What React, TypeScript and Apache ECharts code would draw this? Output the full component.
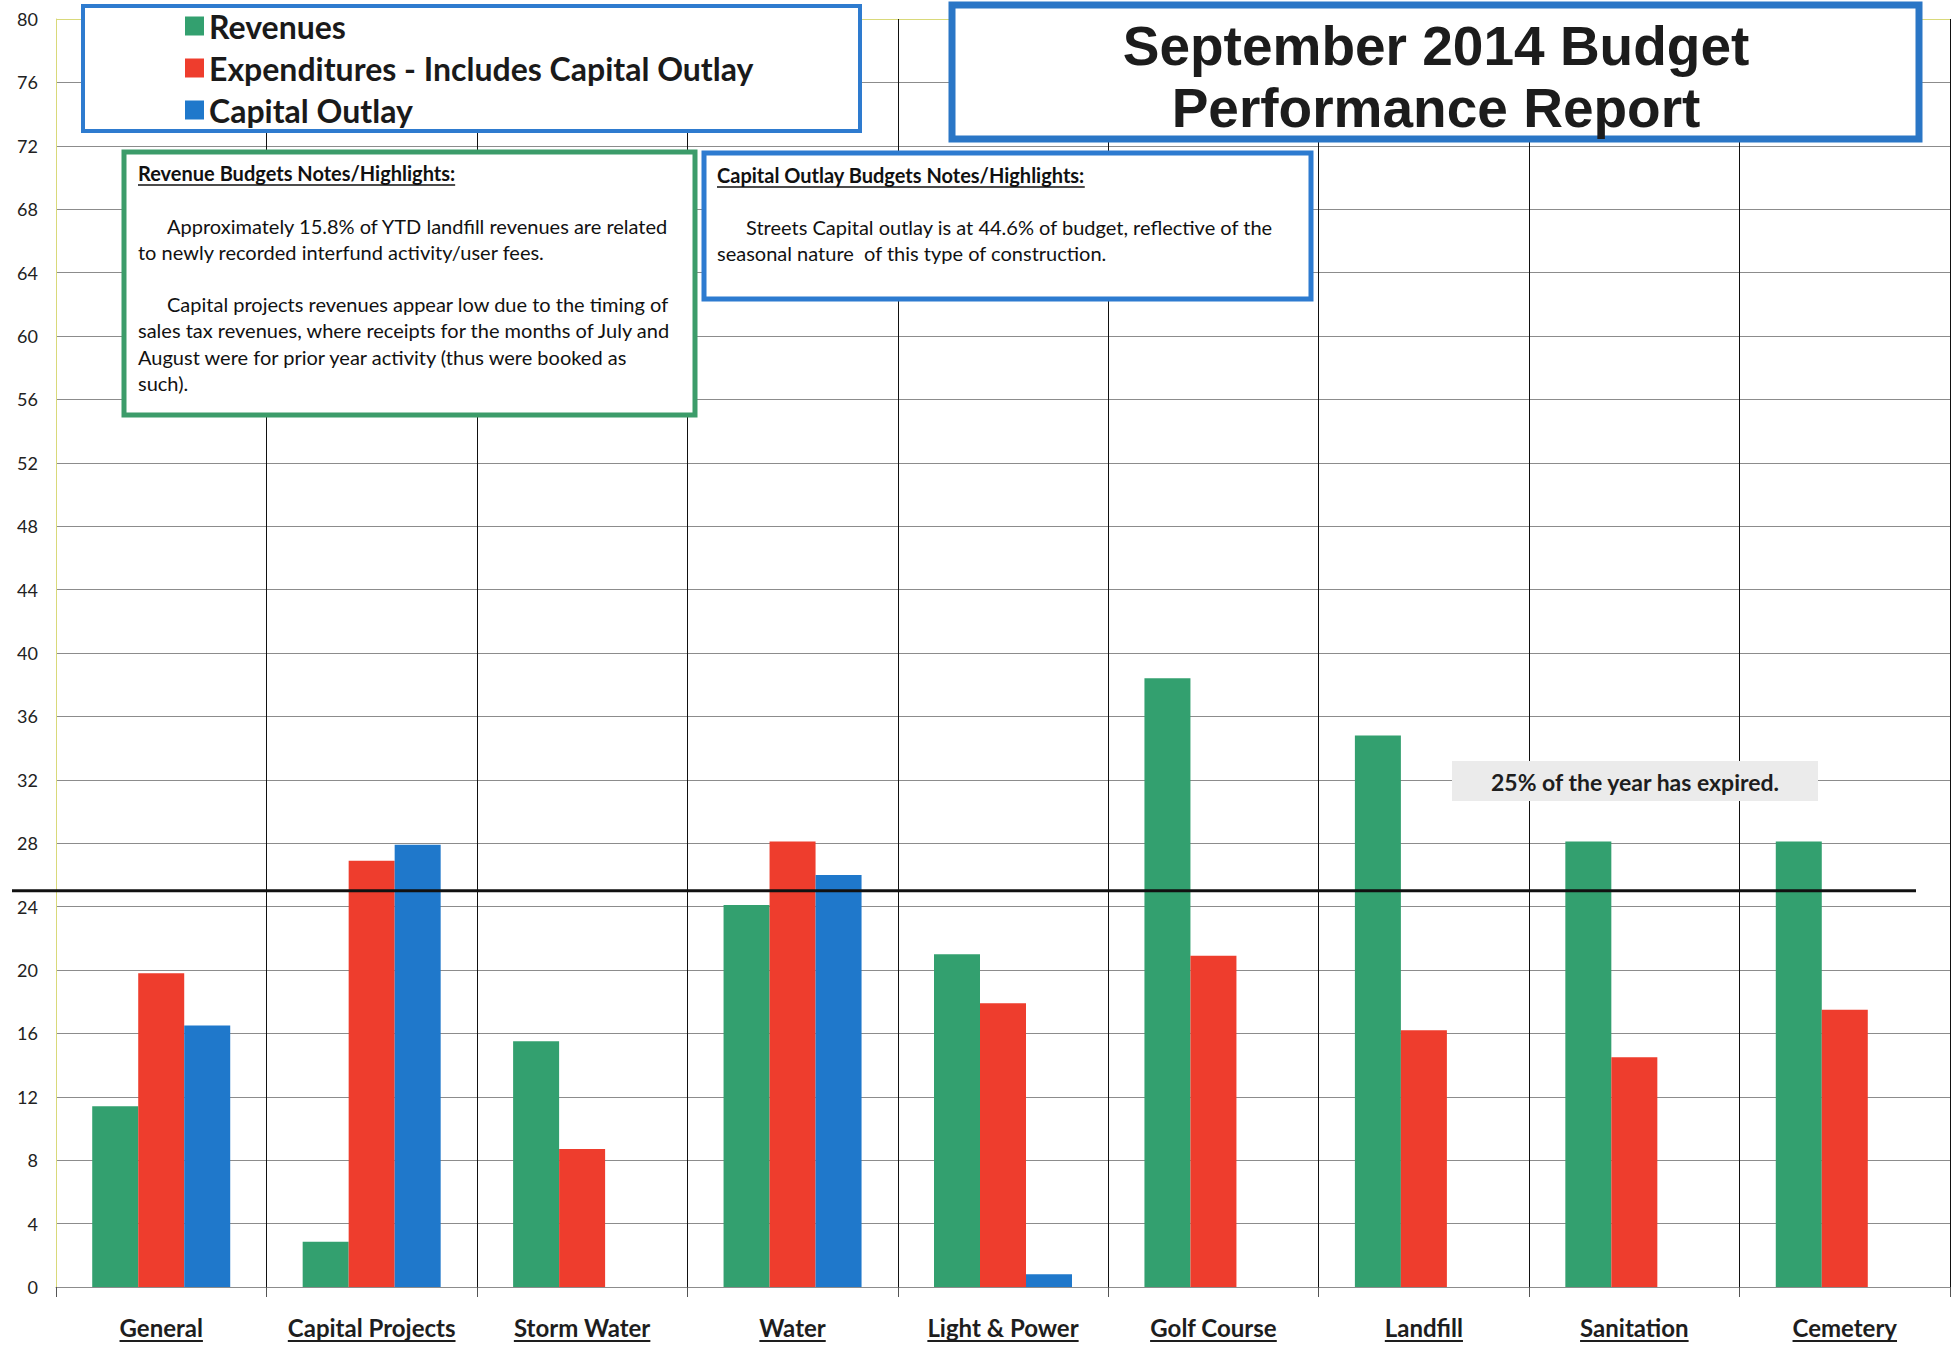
import React, { useEffect, useRef } from "react";
import * as echarts from "echarts";

const categories = ["General", "Capital Projects", "Storm Water", "Water", "Light & Power", "Golf Course", "Landfill", "Sanitation", "Cemetery"];
const revenues = [11.4, 2.85, 15.5, 24.1, 21.0, 38.4, 34.8, 28.1, 28.1];
const expenditures = [19.8, 26.9, 8.7, 28.1, 17.9, 20.9, 16.2, 14.5, 17.5];
const capitalOutlay = [16.5, 27.9, null, 26.0, 0.8, null, null, null, null];
const seriesNames = ["Revenues", "Expenditures - Includes Capital Outlay", "Capital Outlay"];
const expiredPct = 25;
const titleLines = ["September 2014 Budget", "Performance Report"];
const revenueNoteHeading = "Revenue Budgets Notes/Highlights:";
const revenueNoteLines = [
  "Approximately 15.8% of YTD landfill revenues are related",
  "to newly recorded interfund activity/user fees.",
  "Capital projects revenues appear low due to the timing of",
  "sales tax revenues, where receipts for the months of July and",
  "August were for prior year activity (thus were booked as",
  "such).",
];
const capitalNoteHeading = "Capital Outlay Budgets Notes/Highlights:";
const capitalNoteLines = [
  "Streets Capital outlay is at 44.6% of budget, reflective of the",
  "seasonal nature  of this type of construction.",
];
const expiredLabel = "25% of the year has expired.";

const GREEN = "#33a06f";
const RED = "#ee3d2d";
const BLUE = "#1f78cb";
const FONT = "Lato";

export default function App() {
  const ref = useRef<HTMLDivElement>(null);
  useEffect(() => {
    const chart = echarts.init(ref.current!, null, { renderer: "svg" });
    const splitColors: string[] = [];
    for (let i = 0; i < 20; i++) splitColors.push("#8c8c8c");
    splitColors.push("#d9d97a");
    chart.setOption({
      animation: false,
      backgroundColor: "#ffffff",
      textStyle: { fontFamily: FONT },
      grid: { left: 56, right: 5, top: 19, bottom: 61 },
      legend: {
        data: seriesNames,
        orient: "vertical",
        left: 180,
        top: 4,
        itemWidth: 19,
        itemHeight: 19,
        itemGap: 8,
        icon: "rect",
        z: 300,
        selectedMode: false,
        textStyle: { fontSize: 32, fontWeight: "bold", color: "#1a1a1a", fontFamily: FONT, lineHeight: 34 },
      },
      xAxis: {
        type: "category",
        data: categories,
        axisLine: { show: true, lineStyle: { color: "#8c8c8c", width: 1 } },
        axisTick: { show: true, interval: 0, length: 10, lineStyle: { color: "#555" } },
        splitLine: { show: true, interval: 0, lineStyle: { color: "#111", width: 1 } },
        axisLabel: { interval: 0, fontSize: 24, fontWeight: "bold", color: "#1e1e1e", margin: 28, fontFamily: FONT },
      },
      yAxis: {
        type: "value",
        min: 0,
        max: 80,
        interval: 4,
        axisLine: { show: true, lineStyle: { color: "#d9d97a", width: 1 } },
        axisTick: { show: false },
        splitLine: { show: true, lineStyle: { color: splitColors, width: 1 } },
        axisLabel: { fontSize: 18, color: "#222", margin: 18, fontFamily: FONT },
      },
      series: [
        { name: seriesNames[0], type: "bar", data: revenues, barWidth: 46, barGap: "0%", itemStyle: { color: GREEN } },
        { name: seriesNames[1], type: "bar", data: expenditures, barWidth: 46, barGap: "0%", itemStyle: { color: RED } },
        { name: seriesNames[2], type: "bar", data: capitalOutlay, barWidth: 46, barGap: "0%", itemStyle: { color: BLUE } },
      ],
    });

    const ctx = document.createElement("canvas").getContext("2d")!;
    const measure = (font: string, t: string) => {
      ctx.font = font;
      return ctx.measureText(t).width;
    };

    const y25 = chart.convertToPixel({ yAxisIndex: 0 }, expiredPct) as number;
    const g: any[] = [];
    const txt = (x: number, y: number, text: string, size: number, bold: boolean, align = "left", family = FONT, fill = "#111") => ({
      type: "text", z: 101, silent: true, x, y,
      style: { text, fontSize: size, fontWeight: bold ? "bold" : "normal", fontFamily: family, fill, align, verticalAlign: "middle", textAlign: align, textVerticalAlign: "middle" },
    });

    // 25% line
    g.push({ type: "line", z: 90, silent: true, shape: { x1: 12, y1: y25, x2: 1916, y2: y25 }, style: { stroke: "#111", lineWidth: 3 } });
    // expired label
    g.push({ type: "rect", z: 95, silent: true, shape: { x: 1452, y: 761, width: 366, height: 40 }, style: { fill: "#ebebeb" } });
    g.push(txt(1635, 782, expiredLabel, 23, true, "center", FONT, "#1e1e1e"));

    // category underlines
    categories.forEach((c) => {
      const x = chart.convertToPixel({ xAxisIndex: 0 }, c) as number;
      const w = measure(`bold 24px ${FONT}`, c);
      g.push({ type: "line", z: 90, silent: true, shape: { x1: x - w / 2, y1: 1341, x2: x + w / 2, y2: 1341 }, style: { stroke: "#1e1e1e", lineWidth: 2 } });
    });

    // legend box
    g.push({ type: "rect", z: 100, silent: true, shape: { x: 83, y: 6, width: 777, height: 125 }, style: { fill: "#ffffff", stroke: "#2e7bcf", lineWidth: 4 } });

    // title box
    g.push({ type: "rect", z: 100, silent: true, shape: { x: 952, y: 5, width: 967, height: 134 }, style: { fill: "#ffffff", stroke: "#2a76c6", lineWidth: 7 } });
    titleLines.forEach((t, i) => g.push(txt(1436, 46 + i * 62, t, 55, true, "center", "Liberation Sans", "#1c1c1c")));

    // revenue notes box
    g.push({ type: "rect", z: 100, silent: true, shape: { x: 124, y: 152, width: 571, height: 263 }, style: { fill: "#ffffff", stroke: "#3c9c6a", lineWidth: 5 } });
    g.push(txt(138, 173, revenueNoteHeading, 20, true));
    {
      const w = measure(`bold 20px ${FONT}`, revenueNoteHeading);
      g.push({ type: "line", z: 101, silent: true, shape: { x1: 138, y1: 185, x2: 138 + w, y2: 185 }, style: { stroke: "#111", lineWidth: 1.5 } });
    }
    const revY = [226, 252, 304, 330, 357, 383];
    const revX = [167, 138, 167, 138, 138, 138];
    revenueNoteLines.forEach((t, i) => g.push(txt(revX[i], revY[i], t, 20, false)));

    // capital notes box
    g.push({ type: "rect", z: 100, silent: true, shape: { x: 704, y: 153, width: 607, height: 146 }, style: { fill: "#ffffff", stroke: "#2d7bd0", lineWidth: 5 } });
    g.push(txt(717, 175, capitalNoteHeading, 20, true));
    {
      const w = measure(`bold 20px ${FONT}`, capitalNoteHeading);
      g.push({ type: "line", z: 101, silent: true, shape: { x1: 717, y1: 187, x2: 717 + w, y2: 187 }, style: { stroke: "#111", lineWidth: 1.5 } });
    }
    const capY = [227, 253];
    const capX = [746, 717];
    capitalNoteLines.forEach((t, i) => g.push(txt(capX[i], capY[i], t, 20, false)));

    chart.setOption({ graphic: g });
    return () => chart.dispose();
  }, []);
  return <div ref={ref} style={{ position: "fixed", left: 0, top: 0, width: 1955, height: 1348 }} />;
}
